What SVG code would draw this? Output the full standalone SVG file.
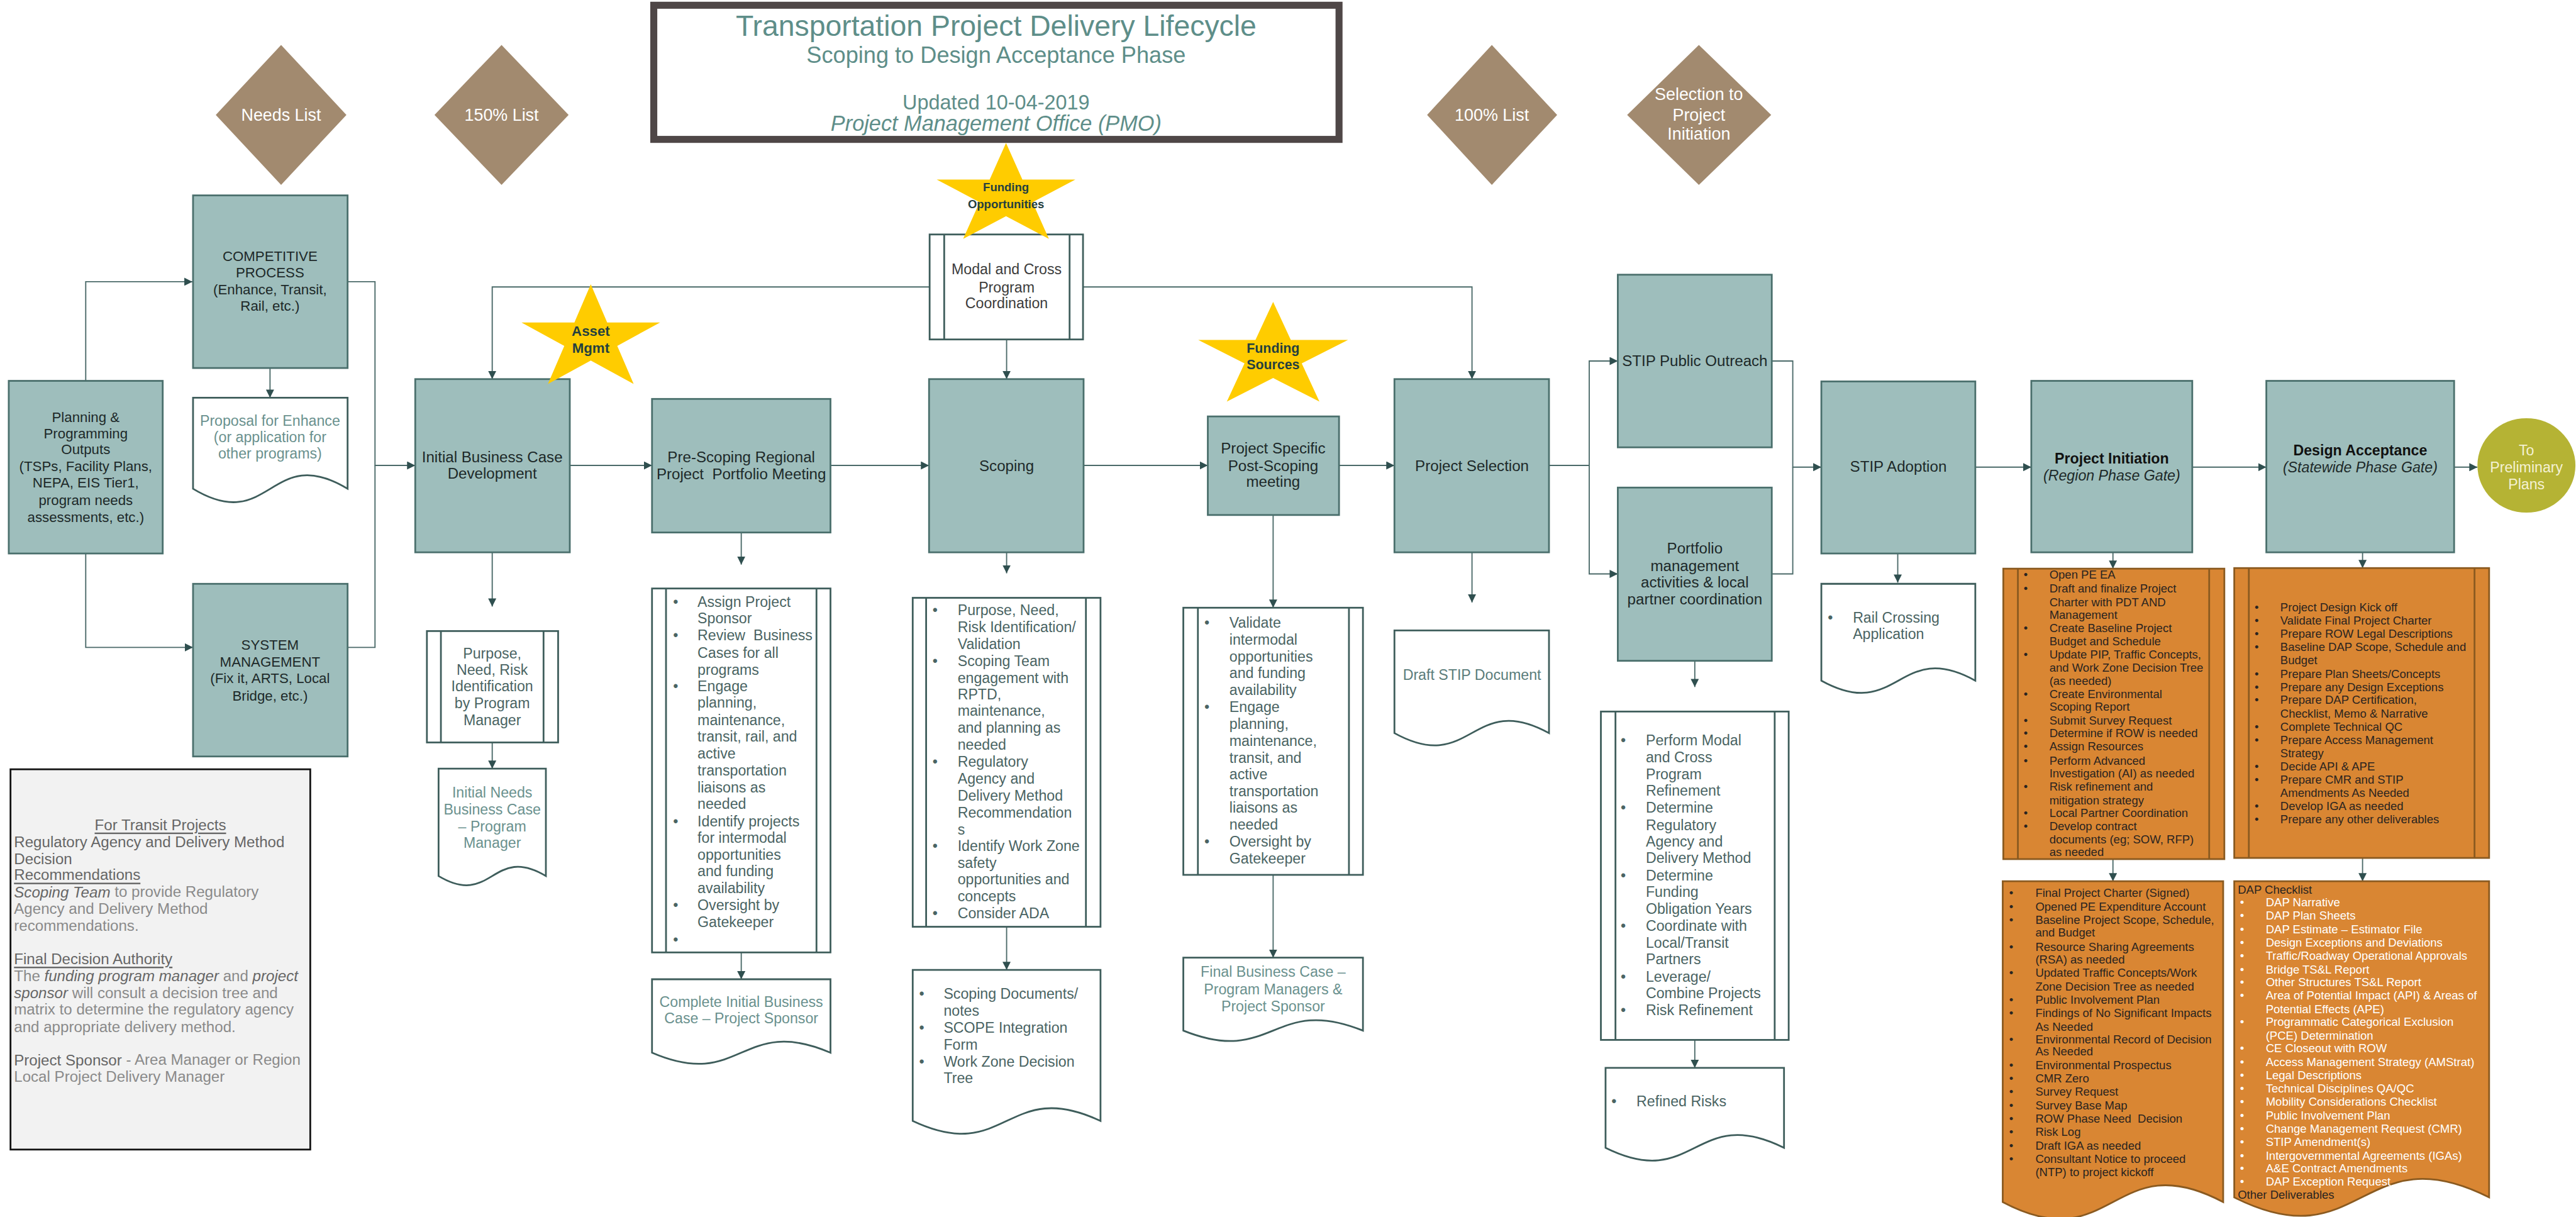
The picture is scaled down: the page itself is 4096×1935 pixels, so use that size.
<svg xmlns="http://www.w3.org/2000/svg" xmlns:xlink="http://www.w3.org/1999/xlink" width="4096" height="1935" viewBox="0 0 4096 1935">
<style>
text{font-family:"Liberation Sans",Arial,sans-serif;dominant-baseline:central}
.m{text-anchor:middle}
.bx{fill:#9ebebc;stroke:#4a6f6c;stroke-width:3}
.wh{fill:#fff;stroke:#3e5d5b;stroke-width:3}
.ln{fill:none;stroke:#4a6968;stroke-width:2}
.dm{fill:#a28a6f}
.st{fill:#ffcc00}
.or{fill:#d98633;stroke:#8a5a20;stroke-width:3}
.orl{stroke:#8a5a20;stroke-width:3}
.whl{stroke:#3e5d5b;stroke-width:3}
.t{font-size:26px;fill:#1d2929}
.ts{font-size:24px;fill:#1d2929}
.dt{font-size:29px;fill:#fff}
.bl{font-size:25px;fill:#4a6463}
.dc{font-size:25px;fill:#6a918e}
.o{font-size:20px;fill:#2a2420}
.ow{font-size:20px;fill:#fff}
.sr{font-weight:bold;fill:#24403f}
.g1{font-size:26px;fill:#8a8a8a}
.g2{fill:#666}
.u{text-decoration:underline}
.ti{fill:#5e8e89}
</style>
<defs>
<marker id="ah" viewBox="0 0 10 10" refX="10" refY="5" markerWidth="14" markerHeight="14" markerUnits="userSpaceOnUse" orient="auto"><path d="M0,0 L10,5 L0,10 z" fill="#2f4f4f"/></marker>
<polygon id="star" points="0,-1 0.2245,-0.309 0.951,-0.309 0.3633,0.118 0.588,0.809 0,0.382 -0.588,0.809 -0.3633,0.118 -0.951,-0.309 -0.2245,-0.309"/>
</defs>
<rect x="0" y="0" width="4096" height="1935" fill="#fff"/>
<g transform="scale(0.92733)">

<g id="title">
<rect x="1121" y="9" width="1175" height="230" fill="#fff" stroke="#4f4747" stroke-width="12"/>
<text class="m ti" x="1708" y="44" font-size="50">Transportation Project Delivery Lifecycle</text>
<text class="m ti" x="1708" y="94" font-size="39">Scoping to Design Acceptance Phase</text>
<text class="m ti" x="1708" y="176" font-size="35">Updated 10-04-2019</text>
<text class="m ti" x="1708" y="211" font-size="37" font-style="italic">Project Management Office (PMO)</text>
</g>

<g id="diamond-needs"><polygon class="dm" points="482,77 594,197 482,317 370,197"/><text class="m dt" x="482" y="197">Needs List</text></g>
<g id="diamond-150"><polygon class="dm" points="860,77 975,197 860,317 745,197"/><text class="m dt" x="860" y="197">150% List</text></g>
<g id="diamond-100"><polygon class="dm" points="2558,77 2670,197 2558,317 2447,197"/><text class="m dt" x="2558" y="197">100% List</text></g>
<g id="diamond-selection"><polygon class="dm" points="2913,77 3037,197 2913,317 2790,197"/>
<text class="m dt" x="2913" font-size="28" y="162">Selection to</text><text class="m dt" x="2913" font-size="28" y="197">Project</text><text class="m dt" x="2913" font-size="28" y="230">Initiation</text></g>

<g id="connectors">
<path class="ln" d="M147,653 V483 H330" marker-end="url(#ah)"/>
<path class="ln" d="M147,949 V1110 H331" marker-end="url(#ah)"/>
<path class="ln" d="M596,483 H643 V798 H712" marker-end="url(#ah)"/>
<path class="ln" d="M596,1110 H643 V798"/>
<path class="ln" d="M463,631 V682" marker-end="url(#ah)"/>
<path class="ln" d="M977,798 H1118" marker-end="url(#ah)"/>
<path class="ln" d="M844,947 V1040" marker-end="url(#ah)"/>
<path class="ln" d="M844,1273 V1318" marker-end="url(#ah)"/>
<path class="ln" d="M1594,492 H844 V650" marker-end="url(#ah)"/>
<path class="ln" d="M1857,492 H2524 V650" marker-end="url(#ah)"/>
<path class="ln" d="M1726,582 V650" marker-end="url(#ah)"/>
<path class="ln" d="M1424,798 H1593" marker-end="url(#ah)"/>
<path class="ln" d="M1271,913 V968" marker-end="url(#ah)"/>
<path class="ln" d="M1271,1633 V1679" marker-end="url(#ah)"/>
<path class="ln" d="M1726,947 V983" marker-end="url(#ah)"/>
<path class="ln" d="M1726,1589 V1663" marker-end="url(#ah)"/>
<path class="ln" d="M1858,798 H2071" marker-end="url(#ah)"/>
<path class="ln" d="M2296,798 H2391" marker-end="url(#ah)"/>
<path class="ln" d="M2183,883 V1042" marker-end="url(#ah)"/>
<path class="ln" d="M2183,1500 V1642" marker-end="url(#ah)"/>
<path class="ln" d="M2524,947 V1033" marker-end="url(#ah)"/>
<path class="ln" d="M2656,798 H2725"/>
<path class="ln" d="M2725,798 V619 H2774" marker-end="url(#ah)"/>
<path class="ln" d="M2725,798 V984 H2774" marker-end="url(#ah)"/>
<path class="ln" d="M3038,619 H3074 V801 H3123" marker-end="url(#ah)"/>
<path class="ln" d="M3038,984 H3074 V801"/>
<path class="ln" d="M3254,949 V999" marker-end="url(#ah)"/>
<path class="ln" d="M2906,1133 V1178" marker-end="url(#ah)"/>
<path class="ln" d="M2906,1783 V1831" marker-end="url(#ah)"/>
<path class="ln" d="M3387,801 H3483" marker-end="url(#ah)"/>
<path class="ln" d="M3759,801 H3886" marker-end="url(#ah)"/>
<path class="ln" d="M4208,801 H4248" marker-end="url(#ah)"/>
<path class="ln" d="M3623,947 V975" marker-end="url(#ah)"/>
<path class="ln" d="M3623,1473 V1511" marker-end="url(#ah)"/>
<path class="ln" d="M4051,947 V974" marker-end="url(#ah)"/>
<path class="ln" d="M4051,1471 V1511" marker-end="url(#ah)"/>
</g>

<g id="planning"><rect class="bx" x="15" y="653" width="264" height="296"/>
<text class="m ts" x="147" y="715">Planning &amp;</text><text class="m ts" x="147" y="743">Programming</text><text class="m ts" x="147" y="771">Outputs</text><text class="m ts" x="147" y="800">(TSPs, Facility Plans,</text><text class="m ts" x="147" y="828">NEPA, EIS Tier1,</text><text class="m ts" x="147" y="858">program needs</text><text class="m ts" x="147" y="887">assessments, etc.)</text></g>

<g id="competitive"><rect class="bx" x="331" y="335" width="265" height="296"/>
<text class="m ts" x="463" y="439">COMPETITIVE</text><text class="m ts" x="463" y="468">PROCESS</text><text class="m ts" x="463" y="497">(Enhance, Transit,</text><text class="m ts" x="463" y="525">Rail, etc.)</text></g>

<g id="proposal"><path class="wh" d="M331,682 H596 V838 C463.5,758 463.5,918 331,838 Z"/>
<text class="m dc" x="463" y="721">Proposal for Enhance</text><text class="m dc" x="463" y="749">(or application for</text><text class="m dc" x="463" y="778">other programs)</text></g>

<g id="system"><rect class="bx" x="331" y="1001" width="265" height="296"/>
<text class="m ts" x="463" y="1106">SYSTEM</text><text class="m ts" x="463" y="1135">MANAGEMENT</text><text class="m ts" x="463" y="1163">(Fix it, ARTS, Local</text><text class="m ts" x="463" y="1193">Bridge, etc.)</text></g>

<g id="transit-note"><rect x="18" y="1319" width="514" height="652" fill="#f2f2f2" stroke="#111" stroke-width="3"/>
<text class="g1 g2 m u" x="275" y="1414">For Transit Projects</text>
<text class="g1 g2" x="24" y="1443">Regulatory Agency and Delivery Method</text>
<text class="g1 g2" x="24" y="1472">Decision</text>
<text class="g1 g2 u" x="24" y="1500">Recommendations</text>
<text class="g1" x="24" y="1529"><tspan class="g2" font-style="italic">Scoping Team</tspan> to provide Regulatory</text>
<text class="g1" x="24" y="1558">Agency and Delivery Method</text>
<text class="g1" x="24" y="1587">recommendations.</text>
<text class="g1 g2 u" x="24" y="1644">Final Decision Authority</text>
<text class="g1" x="24" y="1673">The <tspan class="g2" font-style="italic">funding program manager</tspan> and <tspan class="g2" font-style="italic">project</tspan></text>
<text class="g1" x="24" y="1702"><tspan class="g2" font-style="italic">sponsor</tspan> will consult a decision tree and</text>
<text class="g1" x="24" y="1730">matrix to determine the regulatory agency</text>
<text class="g1" x="24" y="1760">and appropriate delivery method.</text>
<text class="g1" x="24" y="1817"><tspan class="g2">Project Sponsor</tspan> - Area Manager or Region</text>
<text class="g1" x="24" y="1846">Local Project Delivery Manager</text></g>

<g id="ibc"><rect class="bx" x="712" y="650" width="265" height="297"/>
<text class="m t" x="844" y="783">Initial Business Case</text><text class="m t" x="844" y="812">Development</text></g>

<g id="purpose"><rect class="wh" x="732" y="1082" width="225" height="191"/><line class="whl" x1="756" y1="1082" x2="756" y2="1273"/><line class="whl" x1="932" y1="1082" x2="932" y2="1273"/>
<text class="m bl" x="844" y="1120">Purpose,</text><text class="m bl" x="844" y="1148">Need, Risk</text><text class="m bl" x="844" y="1177">Identification</text><text class="m bl" x="844" y="1206">by Program</text><text class="m bl" x="844" y="1235">Manager</text></g>

<g id="initial-needs"><path class="wh" d="M752,1318 H936 V1502 C844,1447 844,1557 752,1502 Z"/>
<text class="m dc" x="844" y="1359">Initial Needs</text><text class="m dc" x="844" y="1388">Business Case</text><text class="m dc" x="844" y="1417">– Program</text><text class="m dc" x="844" y="1445">Manager</text></g>

<g id="prescoping"><rect class="bx" x="1118" y="684" width="306" height="229"/>
<text class="m t" x="1271" y="783">Pre-Scoping Regional</text><text class="m t" x="1271" y="813" xml:space="preserve">Project  Portfolio Meeting</text></g>

<g id="prescoping-tasks"><rect class="wh" x="1118" y="1009" width="306" height="624"/><line class="whl" x1="1142" y1="1009" x2="1142" y2="1633"/><line class="whl" x1="1400" y1="1009" x2="1400" y2="1633"/>
<g class="bl">
<text x="1154" y="1032">•</text><text x="1154" y="1089">•</text><text x="1154" y="1176">•</text><text x="1154" y="1408">•</text><text x="1154" y="1552">•</text><text x="1154" y="1611">•</text>
<text x="1196" y="1032">Assign Project</text><text x="1196" y="1060">Sponsor</text><text x="1196" y="1089" xml:space="preserve">Review  Business</text><text x="1196" y="1119">Cases for all</text><text x="1196" y="1148">programs</text><text x="1196" y="1176">Engage</text><text x="1196" y="1205">planning,</text><text x="1196" y="1235">maintenance,</text><text x="1196" y="1263">transit, rail, and</text><text x="1196" y="1292">active</text><text x="1196" y="1321">transportation</text><text x="1196" y="1350">liaisons as</text><text x="1196" y="1378">needed</text><text x="1196" y="1408">Identify projects</text><text x="1196" y="1436">for intermodal</text><text x="1196" y="1465">opportunities</text><text x="1196" y="1494">and funding</text><text x="1196" y="1523">availability</text><text x="1196" y="1552">Oversight by</text><text x="1196" y="1581">Gatekeeper</text>
</g></g>

<g id="complete-initial"><path class="wh" d="M1118,1679 H1424 V1805 C1271,1739 1271,1871 1118,1805 Z"/>
<text class="m dc" x="1271" y="1718">Complete Initial Business</text><text class="m dc" x="1271" y="1746">Case – Project Sponsor</text></g>

<g id="modal"><rect class="wh" x="1594" y="402" width="263" height="180"/><line class="whl" x1="1619" y1="402" x2="1619" y2="582"/><line class="whl" x1="1834" y1="402" x2="1834" y2="582"/>
<text class="m" font-size="25" fill="#3c3c3c" x="1726" y="462">Modal and Cross</text><text class="m" font-size="25" fill="#3c3c3c" x="1726" y="493">Program</text><text class="m" font-size="25" fill="#3c3c3c" x="1726" y="520">Coordination</text></g>

<g id="scoping"><rect class="bx" x="1593" y="650" width="265" height="297"/><text class="m t" x="1726" y="798">Scoping</text></g>

<g id="scoping-tasks"><rect class="wh" x="1565" y="1025" width="322" height="564"/><line class="whl" x1="1588" y1="1025" x2="1588" y2="1589"/><line class="whl" x1="1862" y1="1025" x2="1862" y2="1589"/>
<g class="bl">
<text x="1599" y="1046">•</text><text x="1599" y="1133">•</text><text x="1599" y="1306">•</text><text x="1599" y="1450">•</text><text x="1599" y="1566">•</text>
<text x="1642" y="1046">Purpose, Need,</text><text x="1642" y="1075">Risk Identification/</text><text x="1642" y="1104">Validation</text><text x="1642" y="1133">Scoping Team</text><text x="1642" y="1162">engagement with</text><text x="1642" y="1190">RPTD,</text><text x="1642" y="1219">maintenance,</text><text x="1642" y="1248">and planning as</text><text x="1642" y="1277">needed</text><text x="1642" y="1306">Regulatory</text><text x="1642" y="1335">Agency and</text><text x="1642" y="1364">Delivery Method</text><text x="1642" y="1393">Recommendation</text><text x="1642" y="1422">s</text><text x="1642" y="1450">Identify Work Zone</text><text x="1642" y="1479">safety</text><text x="1642" y="1508">opportunities and</text><text x="1642" y="1537">concepts</text><text x="1642" y="1566">Consider ADA</text>
</g></g>

<g id="scoping-docs"><path class="wh" d="M1565,1663 H1887 V1922 C1726,1846 1726,1998 1565,1922 Z"/>
<g class="bl">
<text x="1576" y="1704">•</text><text x="1576" y="1762">•</text><text x="1576" y="1820">•</text>
<text x="1618" y="1704">Scoping Documents/</text><text x="1618" y="1733">notes</text><text x="1618" y="1762">SCOPE Integration</text><text x="1618" y="1791">Form</text><text x="1618" y="1820">Work Zone Decision</text><text x="1618" y="1848">Tree</text>
</g></g>

<g id="post-scoping"><rect class="bx" x="2071" y="714" width="225" height="169"/>
<text class="m t" x="2183" y="768">Project Specific</text><text class="m t" x="2183" y="798">Post-Scoping</text><text class="m t" x="2183" y="826">meeting</text></g>

<g id="post-scoping-tasks"><rect class="wh" x="2029" y="1042" width="308" height="458"/><line class="whl" x1="2054" y1="1042" x2="2054" y2="1500"/><line class="whl" x1="2313" y1="1042" x2="2313" y2="1500"/>
<g class="bl">
<text x="2065" y="1068">•</text><text x="2065" y="1212">•</text><text x="2065" y="1443">•</text>
<text x="2108" y="1068">Validate</text><text x="2108" y="1097">intermodal</text><text x="2108" y="1126">opportunities</text><text x="2108" y="1154">and funding</text><text x="2108" y="1183">availability</text><text x="2108" y="1212">Engage</text><text x="2108" y="1241">planning,</text><text x="2108" y="1270">maintenance,</text><text x="2108" y="1299">transit, and</text><text x="2108" y="1328">active</text><text x="2108" y="1357">transportation</text><text x="2108" y="1385">liaisons as</text><text x="2108" y="1414">needed</text><text x="2108" y="1443">Oversight by</text><text x="2108" y="1472">Gatekeeper</text>
</g></g>

<g id="final-business"><path class="wh" d="M2029,1642 H2337 V1767 C2183,1705 2183,1829 2029,1767 Z"/>
<text class="m dc" x="2183" y="1666">Final Business Case –</text><text class="m dc" x="2183" y="1696">Program Managers &amp;</text><text class="m dc" x="2183" y="1725">Project Sponsor</text></g>

<g id="project-selection"><rect class="bx" x="2391" y="650" width="265" height="297"/><text class="m t" x="2524" y="798">Project Selection</text></g>

<g id="draft-stip"><path class="wh" d="M2391,1081 H2656 V1257 C2523.5,1184 2523.5,1330 2391,1257 Z"/>
<text class="m" font-size="25" fill="#5a7c7a" x="2524" y="1157">Draft STIP Document</text></g>

<g id="stip-outreach"><rect class="bx" x="2774" y="471" width="264" height="296"/><text class="m t" x="2906" y="618">STIP Public Outreach</text></g>

<g id="portfolio"><rect class="bx" x="2774" y="836" width="264" height="297"/>
<text class="m t" x="2906" y="940">Portfolio</text><text class="m t" x="2906" y="970">management</text><text class="m t" x="2906" y="998">activities &amp; local</text><text class="m t" x="2906" y="1027">partner coordination</text></g>

<g id="portfolio-tasks"><rect class="wh" x="2745" y="1220" width="322" height="563"/><line class="whl" x1="2770" y1="1220" x2="2770" y2="1783"/><line class="whl" x1="3043" y1="1220" x2="3043" y2="1783"/>
<g class="bl">
<text x="2779" y="1269">•</text><text x="2779" y="1385">•</text><text x="2779" y="1501">•</text><text x="2779" y="1587">•</text><text x="2779" y="1675">•</text><text x="2779" y="1732">•</text>
<text x="2822" y="1269">Perform Modal</text><text x="2822" y="1298">and Cross</text><text x="2822" y="1327">Program</text><text x="2822" y="1356">Refinement</text><text x="2822" y="1385">Determine</text><text x="2822" y="1415">Regulatory</text><text x="2822" y="1443">Agency and</text><text x="2822" y="1471">Delivery Method</text><text x="2822" y="1501">Determine</text><text x="2822" y="1529">Funding</text><text x="2822" y="1558">Obligation Years</text><text x="2822" y="1587">Coordinate with</text><text x="2822" y="1616">Local/Transit</text><text x="2822" y="1645">Partners</text><text x="2822" y="1675">Leverage/</text><text x="2822" y="1703">Combine Projects</text><text x="2822" y="1732">Risk Refinement</text>
</g></g>

<g id="refined-risks"><path class="wh" d="M2753,1831 H3059 V1968 C2906,1892 2906,2044 2753,1968 Z"/>
<text class="bl" x="2763" y="1888">•</text><text class="bl" x="2806" y="1888">Refined Risks</text></g>

<g id="stip-adoption"><rect class="bx" x="3123" y="654" width="264" height="295"/><text class="m t" x="3255" y="800">STIP Adoption</text></g>

<g id="rail-crossing"><path class="wh" d="M3123,1001 H3387 V1167 C3255,1094 3255,1240 3123,1167 Z"/>
<text class="bl" x="3134" y="1059">•</text><text class="bl" x="3177" y="1059">Rail Crossing</text><text class="bl" x="3177" y="1087">Application</text></g>

<g id="project-initiation"><rect class="bx" x="3483" y="653" width="276" height="294"/>
<text class="m" font-size="25" font-weight="bold" fill="#111" x="3621" y="786">Project Initiation</text><text class="m" font-size="25" font-style="italic" fill="#1d2929" x="3621" y="815">(Region Phase Gate)</text></g>

<g id="design-acceptance"><rect class="bx" x="3886" y="653" width="322" height="294"/>
<text class="m" font-size="25" font-weight="bold" fill="#111" x="4047" y="772">Design Acceptance</text><text class="m" font-size="25" font-style="italic" fill="#1d2929" x="4047" y="801">(Statewide Phase Gate)</text></g>

<g id="to-preliminary"><ellipse cx="4332" cy="798" rx="84" ry="81" fill="#b5b334"/>
<text class="m" font-size="25" fill="#f4f1d2" x="4332" y="772">To</text><text class="m" font-size="25" fill="#f4f1d2" x="4332" y="801">Preliminary</text><text class="m" font-size="25" fill="#f4f1d2" x="4332" y="830">Plans</text></g>

<g id="initiation-tasks"><rect class="or" x="3435" y="975" width="379" height="498"/><line class="orl" x1="3460" y1="975" x2="3460" y2="1473"/><line class="orl" x1="3788" y1="975" x2="3788" y2="1473"/>
<g class="o">
<text x="3470" y="985">•</text><text x="3470" y="1009">•</text><text x="3470" y="1077">•</text><text x="3470" y="1122">•</text><text x="3470" y="1190">•</text><text x="3470" y="1235">•</text><text x="3470" y="1257">•</text><text x="3470" y="1280">•</text><text x="3470" y="1304">•</text><text x="3470" y="1349">•</text><text x="3470" y="1394">•</text><text x="3470" y="1416">•</text>
<text x="3514" y="985">Open PE EA</text><text x="3514" y="1009">Draft and finalize Project</text><text x="3514" y="1032">Charter with PDT AND</text><text x="3514" y="1054">Management</text><text x="3514" y="1077">Create Baseline Project</text><text x="3514" y="1099">Budget and Schedule</text><text x="3514" y="1122">Update PIP, Traffic Concepts,</text><text x="3514" y="1145">and Work Zone Decision Tree</text><text x="3514" y="1167">(as needed)</text><text x="3514" y="1190">Create Environmental</text><text x="3514" y="1212">Scoping Report</text><text x="3514" y="1235">Submit Survey Request</text><text x="3514" y="1257">Determine if ROW is needed</text><text x="3514" y="1280">Assign Resources</text><text x="3514" y="1304">Perform Advanced</text><text x="3514" y="1326">Investigation (AI) as needed</text><text x="3514" y="1349">Risk refinement and</text><text x="3514" y="1372">mitigation strategy</text><text x="3514" y="1394">Local Partner Coordination</text><text x="3514" y="1416">Develop contract</text><text x="3514" y="1439">documents (eg; SOW, RFP)</text><text x="3514" y="1461">as needed</text>
</g></g>

<g id="initiation-deliverables"><path class="or" d="M3434,1511 H3812 V2061 C3623,1961 3623,2161 3434,2061 Z"/>
<g class="o">
<text x="3445" y="1531">•</text><text x="3445" y="1554">•</text><text x="3445" y="1577">•</text><text x="3445" y="1623">•</text><text x="3445" y="1668">•</text><text x="3445" y="1714">•</text><text x="3445" y="1737">•</text><text x="3445" y="1782">•</text><text x="3445" y="1826">•</text><text x="3445" y="1849">•</text><text x="3445" y="1872">•</text><text x="3445" y="1895">•</text><text x="3445" y="1918">•</text><text x="3445" y="1941">•</text><text x="3445" y="1964">•</text><text x="3445" y="1987">•</text>
<text x="3490" y="1531">Final Project Charter (Signed)</text><text x="3490" y="1554">Opened PE Expenditure Account</text><text x="3490" y="1577">Baseline Project Scope, Schedule,</text><text x="3490" y="1599">and Budget</text><text x="3490" y="1623">Resource Sharing Agreements</text><text x="3490" y="1645">(RSA) as needed</text><text x="3490" y="1668">Updated Traffic Concepts/Work</text><text x="3490" y="1691">Zone Decision Tree as needed</text><text x="3490" y="1714">Public Involvement Plan</text><text x="3490" y="1737">Findings of No Significant Impacts</text><text x="3490" y="1760">As Needed</text><text x="3490" y="1782">Environmental Record of Decision</text><text x="3490" y="1803">As Needed</text><text x="3490" y="1826">Environmental Prospectus</text><text x="3490" y="1849">CMR Zero</text><text x="3490" y="1872">Survey Request</text><text x="3490" y="1895">Survey Base Map</text><text x="3490" y="1918" xml:space="preserve">ROW Phase Need  Decision</text><text x="3490" y="1941">Risk Log</text><text x="3490" y="1964">Draft IGA as needed</text><text x="3490" y="1987">Consultant Notice to proceed</text><text x="3490" y="2010">(NTP) to project kickoff</text>
</g></g>

<g id="acceptance-tasks"><rect class="or" x="3831" y="974" width="437" height="497"/><line class="orl" x1="3856" y1="974" x2="3856" y2="1471"/><line class="orl" x1="4243" y1="974" x2="4243" y2="1471"/>
<g class="o">
<text x="3866" y="1041">•</text><text x="3866" y="1064">•</text><text x="3866" y="1086">•</text><text x="3866" y="1109">•</text><text x="3866" y="1155">•</text><text x="3866" y="1178">•</text><text x="3866" y="1200">•</text><text x="3866" y="1246">•</text><text x="3866" y="1269">•</text><text x="3866" y="1314">•</text><text x="3866" y="1337">•</text><text x="3866" y="1382">•</text><text x="3866" y="1405">•</text>
<text x="3910" y="1041">Project Design Kick off</text><text x="3910" y="1064">Validate Final Project Charter</text><text x="3910" y="1086">Prepare ROW Legal Descriptions</text><text x="3910" y="1109">Baseline DAP Scope, Schedule and</text><text x="3910" y="1132">Budget</text><text x="3910" y="1155">Prepare Plan Sheets/Concepts</text><text x="3910" y="1178">Prepare any Design Exceptions</text><text x="3910" y="1200">Prepare DAP Certification,</text><text x="3910" y="1223">Checklist, Memo &amp; Narrative</text><text x="3910" y="1246">Complete Technical QC</text><text x="3910" y="1269">Prepare Access Management</text><text x="3910" y="1291">Strategy</text><text x="3910" y="1314">Decide API &amp; APE</text><text x="3910" y="1337">Prepare CMR and STIP</text><text x="3910" y="1359">Amendments As Needed</text><text x="3910" y="1382">Develop IGA as needed</text><text x="3910" y="1405">Prepare any other deliverables</text>
</g></g>

<g id="dap-checklist"><path class="or" d="M3831,1511 H4268 V2053 C4049.5,1943 4049.5,2163 3831,2053 Z"/>
<text class="o" x="3837" y="1525">DAP Checklist</text>
<g class="ow">
<text x="3841" y="1547">•</text><text x="3841" y="1570">•</text><text x="3841" y="1593">•</text><text x="3841" y="1616">•</text><text x="3841" y="1639">•</text><text x="3841" y="1662">•</text><text x="3841" y="1684">•</text><text x="3841" y="1707">•</text><text x="3841" y="1752">•</text><text x="3841" y="1797">•</text><text x="3841" y="1821">•</text><text x="3841" y="1843">•</text><text x="3841" y="1866">•</text><text x="3841" y="1889">•</text><text x="3841" y="1912">•</text><text x="3841" y="1935">•</text><text x="3841" y="1958">•</text><text x="3841" y="1981">•</text><text x="3841" y="2003">•</text><text x="3841" y="2026">•</text>
<text x="3885" y="1547">DAP Narrative</text><text x="3885" y="1570">DAP Plan Sheets</text><text x="3885" y="1593">DAP Estimate – Estimator File</text><text x="3885" y="1616">Design Exceptions and Deviations</text><text x="3885" y="1639">Traffic/Roadway Operational Approvals</text><text x="3885" y="1662">Bridge TS&amp;L Report</text><text x="3885" y="1684">Other Structures TS&amp;L Report</text><text x="3885" y="1707">Area of Potential Impact (API) &amp; Areas of</text><text x="3885" y="1730">Potential Effects (APE)</text><text x="3885" y="1752">Programmatic Categorical Exclusion</text><text x="3885" y="1775">(PCE) Determination</text><text x="3885" y="1797">CE Closeout with ROW</text><text x="3885" y="1821">Access Management Strategy (AMStrat)</text><text x="3885" y="1843">Legal Descriptions</text><text x="3885" y="1866">Technical Disciplines QA/QC</text><text x="3885" y="1889">Mobility Considerations Checklist</text><text x="3885" y="1912">Public Involvement Plan</text><text x="3885" y="1935">Change Management Request (CMR)</text><text x="3885" y="1958">STIP Amendment(s)</text><text x="3885" y="1981">Intergovernmental Agreements (IGAs)</text><text x="3885" y="2003">A&amp;E Contract Amendments</text><text x="3885" y="2026">DAP Exception Request</text>
</g>
<text class="o" x="3837" y="2048">Other Deliverables</text></g>

<g id="star-asset"><use xlink:href="#star" class="st" transform="translate(1013,582) scale(125,94.5)"/>
<text class="m sr" font-size="24" x="1013" y="568">Asset</text><text class="m sr" font-size="24" x="1013" y="597">Mgmt</text></g>
<g id="star-funding-opportunities"><use xlink:href="#star" class="st" transform="translate(1725,336) scale(125,91)"/>
<text class="m sr" font-size="20" x="1725" y="321">Funding</text><text class="m sr" font-size="20" x="1725" y="350">Opportunities</text></g>
<g id="star-funding-sources"><use xlink:href="#star" class="st" transform="translate(2183,612) scale(135,94.5)"/>
<text class="m sr" font-size="23" x="2183" y="597">Funding</text><text class="m sr" font-size="23" x="2183" y="625">Sources</text></g>

</g>
</svg>
